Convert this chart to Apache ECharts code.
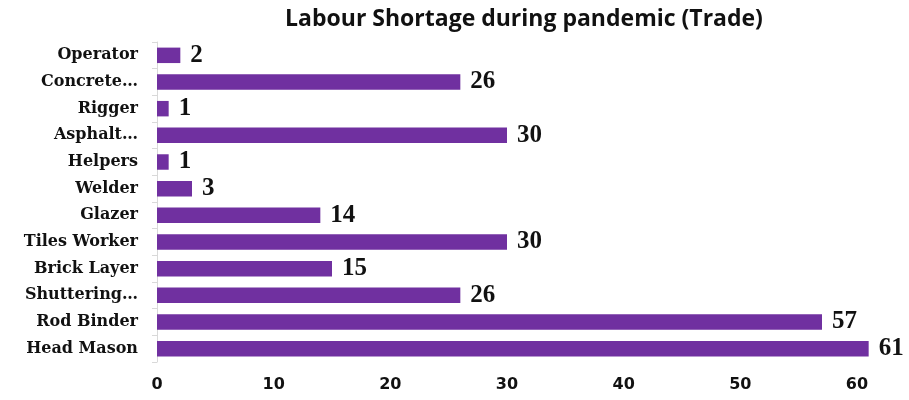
<!DOCTYPE html>
<html>
<head>
<meta charset="utf-8">
<script src="https://cdn.jsdelivr.net/npm/echarts@6/dist/echarts.min.js"></script>
<style>
  html, body { margin: 0; padding: 0; background: #fff; }
  #chart { width: 909px; height: 400px; }
</style>
</head>
<body>
<div id="chart"></div>
<script>
// bottom to top, as drawn by the category axis
const trades = ['Head Mason', 'Rod Binder', 'Shuttering…', 'Brick Layer', 'Tiles Worker', 'Glazer',
  'Welder', 'Helpers', 'Asphalt…', 'Rigger', 'Concrete…', 'Operator']
const shortage = [61, 57, 26, 15, 30, 14, 3, 1, 30, 1, 26, 2]
const xTicks = [0, 10, 20, 30, 40, 50, 60]

const chart = echarts.init(document.getElementById('chart'))
const option = {
  animation: false,
  title: {
    text: 'Labour Shortage during pandemic (Trade)',
    left: 519,
    textAlign: 'center',
    top: 3,
    textStyle: {
      fontFamily: 'Open Sans',
      fontWeight: 'bold',
      fontSize: 23,
      color: '#111'
    }
  },
  grid: {
    left: 157,
    right: 52,
    top: 42,
    bottom: 38
  },
  xAxis: {
    type: 'value',
    min: xTicks[0],
    max: xTicks[xTicks.length - 1],
    interval: 10,
    axisLine: { show: false },
    axisTick: { show: false },
    splitLine: { show: false },
    axisLabel: {
      margin: 15,
      fontFamily: 'DejaVu Sans',
      fontWeight: 'bold',
      fontSize: 16,
      color: '#111'
    }
  },
  yAxis: {
    type: 'category',
    data: trades,
    axisLine: { lineStyle: { color: '#d9d9d9' } },
    axisTick: { show: true, length: 5, lineStyle: { color: '#d9d9d9' } },
    axisLabel: {
      margin: 19,
      fontFamily: 'DejaVu Serif',
      fontWeight: 'bold',
      fontSize: 16,
      color: '#111'
    }
  },
  series: [{
    type: 'bar',
    data: shortage,
    barWidth: '58%',
    clip: false,
    itemStyle: { color: '#7030a0' },
    label: {
      show: true,
      position: 'right',
      distance: 10,
      fontFamily: 'Liberation Serif',
      fontWeight: 'bold',
      fontSize: 25,
      color: '#111'
    }
  }]
}
chart.setOption(option)
</script>
</body>
</html>
